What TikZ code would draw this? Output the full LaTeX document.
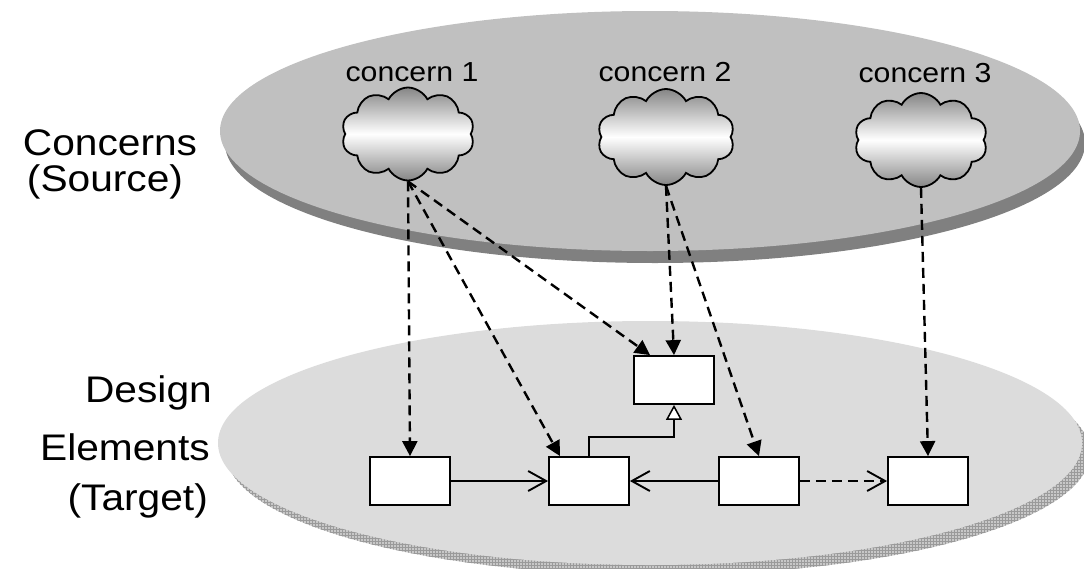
\documentclass[tikz,border=0pt]{standalone}
\usepackage{fontspec}
\setmainfont{Liberation Sans}
\newfontfamily\labfont[FakeStretch=1.1]{Liberation Sans}
\usetikzlibrary{shapes.symbols,arrows.meta,patterns}
\definecolor{topgray}{HTML}{C0C0C0}
\definecolor{topshadow}{HTML}{808080}
\definecolor{botgray}{HTML}{DCDCDC}
\definecolor{botshadow}{HTML}{C8C8C8}
\definecolor{gridgray}{HTML}{9A9A9A}
\begin{document}
\begin{tikzpicture}[x=1pt,y=-1pt,
  concern/.style={cloud, cloud puffs=10, cloud puff arc=125, aspect=1.45, draw=black, line width=1.8pt,
    top color=gray!95, bottom color=gray!95, middle color=white, inner sep=0pt},
  elem/.style={draw=black, fill=white, line width=1.8pt, minimum width=80pt, minimum height=48pt, inner sep=0pt},
  dep/.style={line width=2.4pt, dash pattern=on 10pt off 6pt, -{Triangle[length=15pt,width=15pt]}},
  assoc/.style={line width=1.9pt, -{Straight Barb[length=18pt,width=20pt,line width=1.9pt]}},
  inh/.style={line width=1.7pt, -{Triangle[length=15pt,width=16pt,fill=white,line width=1.5pt]}},
  biglab/.style={font=\labfont\fontsize{37}{42}\selectfont, inner sep=0pt},
  smlab/.style={font=\labfont\fontsize{27.5}{31}\selectfont, inner sep=0pt}
]
\useasboundingbox (0,0) rectangle (1084,568);
% top plane
\fill[topshadow] (655,143) ellipse [x radius=430, y radius=120];
\fill[topgray] (650,131) ellipse [x radius=430, y radius=120];
% bottom plane
\fill[botshadow] (658,453) ellipse [x radius=432, y radius=122];
\fill[pattern=grid, pattern color=gridgray] (658,453) ellipse [x radius=432, y radius=122];
\fill[botgray] (650,443) ellipse [x radius=432, y radius=122];
% side labels
\node[biglab] (l1) at (110,143) {Concerns};
\node[biglab] (l2) at (105,182) {(Source)};
\node[biglab, anchor=east] (l3) at (212,393) {Design};
\node[biglab, anchor=east] (l4) at (210,447) {Elements};
\node[biglab, anchor=east] (l5) at (208,501) {(Target)};
% concern labels
\node[smlab] (t1) at (412,72) {concern 1};
\node[smlab] (t2) at (665,72) {concern 2};
\node[smlab] (t3) at (925,73) {concern 3};
% clouds
\node[concern, minimum width=133pt, minimum height=93pt] (c1) at (408,134) {};
\node[concern, minimum width=137pt, minimum height=96pt] (c2) at (666,137) {};
\node[concern, minimum width=133pt, minimum height=94pt] (c3) at (921,140) {};
% design elements
\node[elem] (a) at (674,380) {};
\node[elem] (b1) at (410,481) {};
\node[elem] (b2) at (589,481) {};
\node[elem] (b3) at (759,481) {};
\node[elem] (b4) at (928,481) {};
% traces
\draw[dep] (c1.south) -- (b1.north);
\draw[dep] (c1.south) -- ([xshift=-29pt]b2.north);
\draw[dep] (c1.south) -- ([xshift=-24pt]a.north);
\draw[dep] (c2.south) -- (a.north);
\draw[dep] (c2.south) -- (b3.north);
\draw[dep] (c3.south) -- (b4.north);
% relations
\draw[assoc] (b1.east) -- (b2.west);
\draw[assoc] (b3.west) -- (b2.east);
\draw[assoc, dash pattern=on 10pt off 6pt] (b3.east) -- (b4.west);
\draw[inh] (b2.north) -- ++(0,-19) -| (a.south);
\end{tikzpicture}
\end{document}
